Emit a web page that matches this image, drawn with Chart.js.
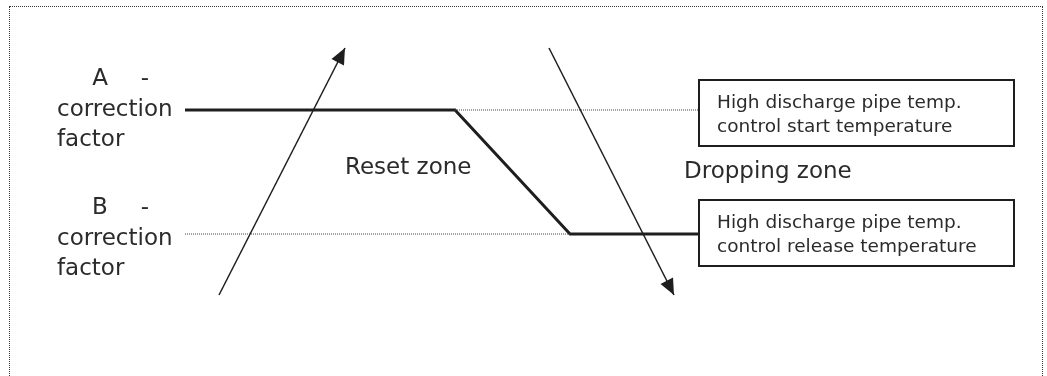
<!DOCTYPE html>
<html>
<head>
<meta charset="utf-8">
<script src="https://cdn.jsdelivr.net/npm/chart.js@4/dist/chart.umd.min.js"></script>
<style>
    html, body { margin: 0; padding: 0; background: #fff; overflow: hidden; }
    #wrap { position: relative; width: 1047px; height: 376px; }
    #frame {
        position: absolute; left: 9px; top: 6px; width: 1034px; height: 420px;
        border: 1px dotted #333; box-sizing: border-box; pointer-events: none;
    }
    canvas { position: absolute; left: 0; top: 0; }
</style>
</head>
<body>
<div id="wrap">
    <canvas id="diagram" width="1047" height="376"></canvas>
    <div id="frame"></div>
</div>
<script>
// DATOS DEL DIAGRAMA (unidades del diagrama, eje y hacia abajo)
const xRange = [0, 1047];
const yRange = [0, 376];

const aCurve = [{x: 185, y: 110}, {x: 455, y: 110}, {x: 570, y: 234}, {x: 698, y: 234}];
const startGuide = [{x: 455, y: 110}, {x: 698, y: 110}];
const releaseGuide = [{x: 185, y: 234}, {x: 570, y: 234}];
const riseArrow = [{x: 219, y: 295}, {x: 345, y: 48}];
const fallArrow = [{x: 549, y: 48}, {x: 674, y: 295}];

const factorNames = ['A', 'B'];
const factorText = ['correction', 'factor'];
const zoneLabels = ['Reset zone', 'Dropping zone'];
const boxLabels = [
    ['High discharge pipe temp.', 'control start temperature'],
    ['High discharge pipe temp.', 'control release temperature']
];

const ink = '#1e1e1e';
const textColor = '#2b2b2b';

// DIBUJAR FLECHAS, CAJAS Y TEXTOS
const annotate = {
    id: 'annotate',
    afterDatasetsDraw(chart) {
        const ctx = chart.ctx;
        const sx = chart.scales.x, sy = chart.scales.y;
        const px = v => sx.getPixelForValue(v);
        const py = v => sy.getPixelForValue(v);

        // puntas de flecha
        [riseArrow, fallArrow].forEach(arr => {
            const a = arr[arr.length - 2], b = arr[arr.length - 1];
            const x1 = px(a.x), y1 = py(a.y), x2 = px(b.x), y2 = py(b.y);
            const ang = Math.atan2(y2 - y1, x2 - x1);
            const len = 16, half = 7;
            ctx.save();
            ctx.translate(x2, y2);
            ctx.rotate(ang);
            ctx.beginPath();
            ctx.moveTo(0, 0);
            ctx.lineTo(-len, -half);
            ctx.lineTo(-len, half);
            ctx.closePath();
            ctx.fillStyle = ink;
            ctx.fill();
            ctx.restore();
        });

        ctx.save();
        ctx.fillStyle = textColor;

        // etiquetas A / B
        ctx.font = '23px "DejaVu Sans"';
        const blockTops = [85, 214];
        factorNames.forEach((name, i) => {
            const base = blockTops[i];
            ctx.textAlign = 'center';
            ctx.fillText(name, px(100), py(base));
            ctx.fillText('-', px(145), py(base));
            ctx.textAlign = 'left';
            factorText.forEach((t, j) => {
                ctx.fillText(t, px(57), py(base + 31 + j * 30));
            });
        });

        // zonas
        ctx.textAlign = 'left';
        ctx.fillText(zoneLabels[0], px(345), py(174));
        ctx.fillText(zoneLabels[1], px(684), py(178));

        // cajas
        const boxTops = [79, 199];
        boxLabels.forEach((lines, i) => {
            const x0 = px(698), x1 = px(1015);
            const y0 = py(boxTops[i]), y1 = py(boxTops[i] + 68);
            ctx.fillStyle = '#fff';
            ctx.fillRect(x0, y0, x1 - x0, y1 - y0);
            ctx.strokeStyle = ink;
            ctx.lineWidth = 2;
            ctx.strokeRect(x0 + 1, y0 + 1, x1 - x0 - 2, y1 - y0 - 2);
            ctx.fillStyle = textColor;
            ctx.font = '18.5px "DejaVu Sans"';
            lines.forEach((t, j) => {
                ctx.fillText(t, px(717), py(boxTops[i] + 29 + j * 24));
            });
        });
        ctx.restore();
    }
};

const lineSet = (data, width, dash, color) => ({
    data: data,
    showLine: true,
    borderColor: color || ink,
    borderWidth: width,
    borderDash: dash,
    pointRadius: 0,
    fill: false,
    tension: 0
});

new Chart(document.getElementById('diagram').getContext('2d'), {
    type: 'scatter',
    data: {
        datasets: [
            lineSet(startGuide, 1, [1, 1], '#444'),
            lineSet(releaseGuide, 1, [1, 1], '#444'),
            lineSet(aCurve, 3, []),
            lineSet(riseArrow, 1.5, []),
            lineSet(fallArrow, 1.5, [])
        ]
    },
    options: {
        responsive: false,
        animation: false,
        devicePixelRatio: 1,
        layout: { padding: 0 },
        scales: {
            x: { type: 'linear', min: xRange[0], max: xRange[1], display: false },
            y: { type: 'linear', min: yRange[0], max: yRange[1], reverse: true, display: false }
        },
        plugins: {
            legend: { display: false },
            tooltip: { enabled: false }
        }
    },
    plugins: [annotate]
});
</script>
</body>
</html>
